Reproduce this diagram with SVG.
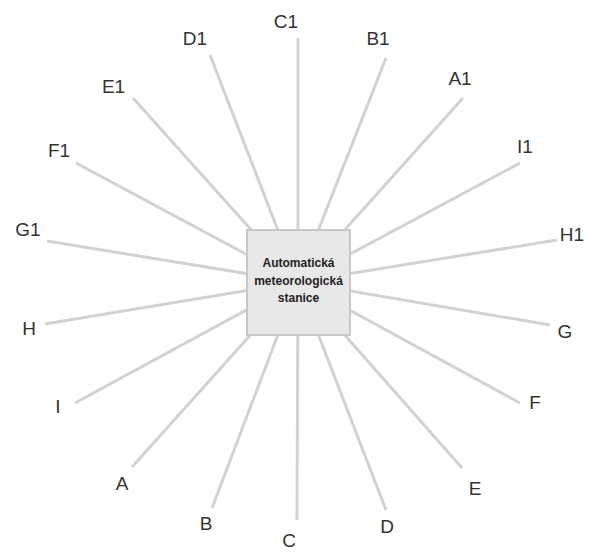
<svg xmlns="http://www.w3.org/2000/svg" width="590" height="552" viewBox="0 0 590 552">
<style>
.c line{stroke:#d2d2d2;stroke-width:3;stroke-linecap:butt}
.lbl{font-family:"Liberation Sans",Arial,sans-serif;font-size:19px;fill:#333;text-anchor:middle}
.ctr{font-family:"Liberation Sans",Arial,sans-serif;font-size:12px;font-weight:bold;fill:#222;text-anchor:middle}
</style>
<rect width="590" height="552" fill="#fff"/>
<g class="c" id="connectors">
<line x1="298" y1="282" x2="298" y2="38"/>
<line x1="298" y1="282" x2="210" y2="55"/>
<line x1="298" y1="282" x2="386" y2="58"/>
<line x1="298" y1="282" x2="463" y2="98"/>
<line x1="298" y1="282" x2="133" y2="98"/>
<line x1="298" y1="282" x2="76" y2="163"/>
<line x1="298" y1="282" x2="47" y2="241"/>
<line x1="298" y1="282" x2="520" y2="163"/>
<line x1="298" y1="282" x2="557" y2="240"/>
<line x1="298" y1="282" x2="550" y2="325"/>
<line x1="298" y1="282" x2="520" y2="403"/>
<line x1="298" y1="282" x2="462" y2="468"/>
<line x1="298" y1="282" x2="386" y2="510"/>
<line x1="298" y1="282" x2="297" y2="520"/>
<line x1="298" y1="282" x2="212" y2="508"/>
<line x1="298" y1="282" x2="132" y2="467"/>
<line x1="298" y1="282" x2="75" y2="403"/>
<line x1="298" y1="282" x2="45" y2="324"/>
</g>
<g id="center">
<rect x="247" y="230" width="103" height="105" fill="#e8e8e8" stroke="#c8c8c8" stroke-width="2"/>
<text class="ctr" x="298.5" y="267">Automatická</text>
<text class="ctr" x="298.5" y="285">meteorologická</text>
<text class="ctr" x="298.5" y="302">stanice</text>
</g>
<g id="C1"><text class="lbl" x="286" y="28">C1</text></g>
<g id="D1"><text class="lbl" x="195" y="45">D1</text></g>
<g id="B1"><text class="lbl" x="378" y="45">B1</text></g>
<g id="A1"><text class="lbl" x="460" y="85">A1</text></g>
<g id="E1"><text class="lbl" x="113.5" y="93">E1</text></g>
<g id="F1"><text class="lbl" x="59" y="157">F1</text></g>
<g id="G1"><text class="lbl" x="28" y="236">G1</text></g>
<g id="I1"><text class="lbl" x="525" y="153">I1</text></g>
<g id="H1"><text class="lbl" x="572" y="241">H1</text></g>
<g id="G"><text class="lbl" x="565" y="338">G</text></g>
<g id="F"><text class="lbl" x="535" y="409">F</text></g>
<g id="E"><text class="lbl" x="475" y="495">E</text></g>
<g id="D"><text class="lbl" x="387" y="533">D</text></g>
<g id="C"><text class="lbl" x="289" y="547">C</text></g>
<g id="B"><text class="lbl" x="206" y="530">B</text></g>
<g id="A"><text class="lbl" x="122" y="490">A</text></g>
<g id="I"><text class="lbl" x="58" y="413">I</text></g>
<g id="H"><text class="lbl" x="29" y="335">H</text></g>
</svg>
